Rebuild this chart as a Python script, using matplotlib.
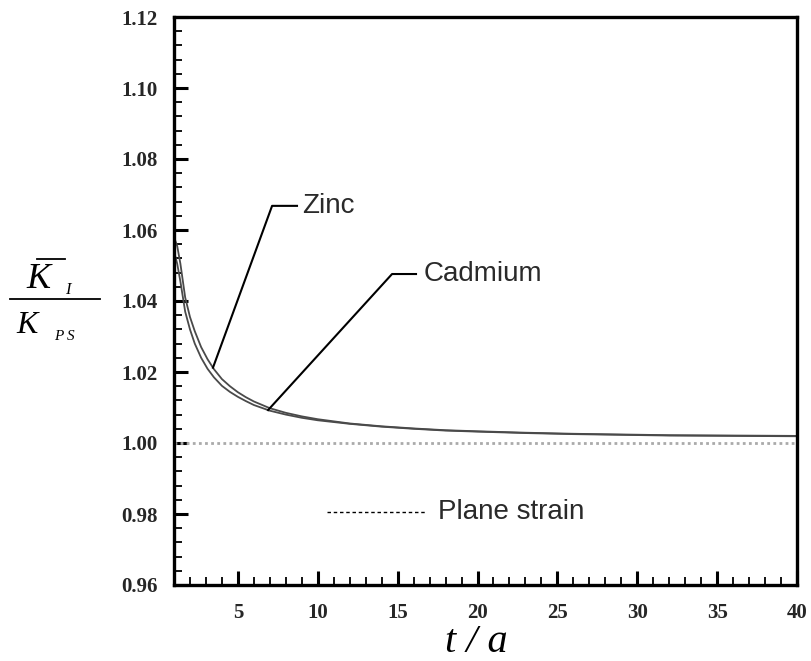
import numpy as np
import matplotlib
matplotlib.use("Agg")
import matplotlib.pyplot as plt
from matplotlib.ticker import MultipleLocator, FormatStrFormatter
from matplotlib.lines import Line2D

# normalised thickness t/a and stress intensity ratio K_I / K_PS
t_over_a = [1.0, 1.2, 1.4, 1.7, 2.0, 2.3, 2.7, 3.1, 3.5, 4.0, 4.5, 5.0, 5.5, 6.0,
            7.0, 8.0, 9.0, 10.0, 12.0, 14.0, 16.0, 18.0, 20.0, 23.0, 26.0, 29.0,
            32.0, 36.0, 40.0]
k_zinc = [1.058, 1.0555, 1.0505, 1.0410, 1.0355, 1.0315, 1.0270, 1.0236, 1.0208,
          1.0180, 1.0160, 1.0143, 1.0129, 1.0117, 1.0098, 1.0085, 1.0075, 1.0067,
          1.0055, 1.0047, 1.0041, 1.0036, 1.0033, 1.0029, 1.0026, 1.0024, 1.0022,
          1.0021, 1.0020]
k_cadmium = [1.054, 1.0505, 1.0455, 1.0370, 1.0320, 1.0280, 1.0240, 1.0209, 1.0185,
             1.0161, 1.0144, 1.0130, 1.0118, 1.0107, 1.0091, 1.0080, 1.0071, 1.0064,
             1.0054, 1.0046, 1.0040, 1.0035, 1.0032, 1.0028, 1.0025, 1.0023, 1.0021,
             1.0020, 1.0019]
plane_strain = 1.0

W, H = 811, 661
fig = plt.figure(figsize=(W / 100, H / 100), dpi=100)
ax = fig.add_axes([174 / W, 1 - 585 / H, (797 - 174) / W, (585 - 17) / H])

ax.plot(t_over_a, k_zinc, color="#4a4a4a", lw=1.3)
ax.plot(t_over_a, k_cadmium, color="#4a4a4a", lw=1.3)
ax.axhline(plane_strain, color="#aaaaaa", lw=2.0, dashes=(1, 1.2))

ax.set_xlim(1, 40)
ax.set_ylim(0.96, 1.12)
ax.xaxis.set_major_locator(MultipleLocator(5))
ax.xaxis.set_minor_locator(MultipleLocator(1))
ax.yaxis.set_major_locator(MultipleLocator(0.02))
ax.yaxis.set_minor_locator(MultipleLocator(0.004))
ax.yaxis.set_major_formatter(FormatStrFormatter("%.2f"))

for s in ax.spines.values():
    s.set_linewidth(2.4)
ax.tick_params(which="both", direction="in", top=False, right=False)
ax.tick_params(which="major", length=10, width=2.2)
ax.tick_params(which="minor", length=6, width=1.3)
ax.tick_params(axis="x", pad=13)
ax.tick_params(axis="y", pad=12)
for lab in ax.get_xticklabels() + ax.get_yticklabels():
    lab.set_fontfamily("Liberation Serif")
    lab.set_fontweight("bold")
    lab.set_fontsize(15)
    lab.set_color("#262626")

# leader lines and labels
sans = dict(family="Liberation Sans", fontsize=20, color="#2a2a2a", va="center")

x_zn = 3.44
y_zn = np.interp(x_zn, t_over_a, k_zinc)
ax.plot([x_zn, 7.14, 8.70], [y_zn, 1.0668, 1.0668], color="black", lw=1.5)
ax.text(9.0, 1.0668, "Zinc", **sans)

x_cd = 6.89
y_cd = np.interp(x_cd, t_over_a, k_cadmium)
ax.plot([x_cd, 14.65, 16.15], [y_cd, 1.0476, 1.0476], color="black", lw=1.5)
ax.text(16.6, 1.0476, "Cadmium", **sans)

ax.plot([10.6, 16.7], [0.9806, 0.9806], color="black", lw=1.0, dashes=(2.5, 2))
ax.text(17.5, 0.9806, "Plane strain", **sans)

# y-axis label drawn as a fraction
def px(x, y):
    return x / W, 1 - y / H

serif_it = dict(family="Liberation Serif", style="italic", color="black")
fig.text(*px(26, 288), "K", fontsize=26, ha="left", va="baseline", **serif_it)
fig.text(*px(65, 294), "I", fontsize=12, ha="left", va="baseline", **serif_it)
fig.add_artist(Line2D([37 / W, 65 / W], [1 - 259 / H, 1 - 259 / H],
                      color="black", lw=1.3))
fig.add_artist(Line2D([10 / W, 100 / W], [1 - 299 / H, 1 - 299 / H],
                      color="black", lw=1.3))
fig.text(*px(16, 333), "K", fontsize=23, ha="left", va="baseline", **serif_it)
fig.text(*px(54, 340), "P S", fontsize=11, ha="left", va="baseline", **serif_it)

fig.text(*px(476, 643), "t / a", fontsize=29, ha="center", va="center", **serif_it)

fig.savefig("out.png", dpi=100)
